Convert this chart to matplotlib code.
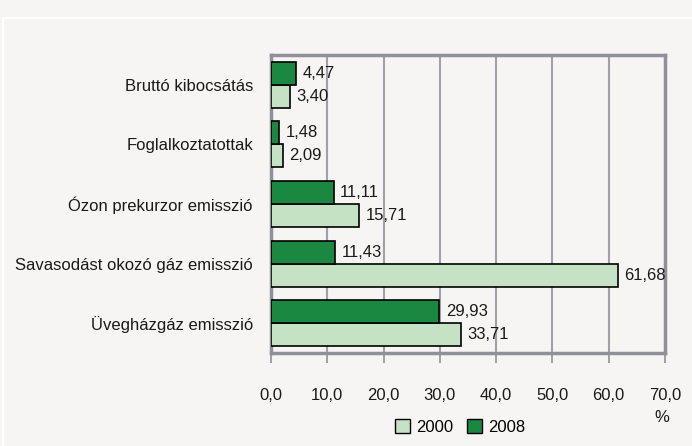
import matplotlib.pyplot as plt
import matplotlib.patches as mpatches
import numpy as np

categories = ["Bruttó kibocsátás", "Foglalkoztatottak", "Ózon prekurzor emisszió",
              "Savasodást okozó gáz emisszió", "Üvegházgáz emisszió"]
values_2000 = [3.40, 2.09, 15.71, 61.68, 33.71]
values_2008 = [4.47, 1.48, 11.11, 11.43, 29.93]
xticks = [0, 10, 20, 30, 40, 50, 60, 70]

bg = "#f6f5f3"
light = "#c5e3c4"
dark = "#1a8840"
grey = "#909098"
txt = "#1a1a1a"

plt.rcParams['font.family'] = ['Liberation Sans Narrow', 'Liberation Sans', 'DejaVu Sans']

fig = plt.figure(figsize=(6.92, 4.46), dpi=100, facecolor=bg)
# thin white panel border
fig.patches.append(mpatches.Rectangle((3 / 692, -0.1), 1.2, 1 - 18 / 446 + 0.1,
                                      transform=fig.transFigure, facecolor="none",
                                      edgecolor="white", linewidth=1.5))

ax = fig.add_axes([271 / 692, 1 - 353 / 446, 394 / 692, 298 / 446])
ax.set_facecolor(bg)

y = np.arange(len(categories))
h = 0.385
b1 = ax.barh(y + h / 2, values_2000, height=h, color=light, edgecolor="black", linewidth=1.2, zorder=3)
b2 = ax.barh(y - h / 2, values_2008, height=h, color=dark, edgecolor="black", linewidth=1.2, zorder=3)

for bars, vals in ((b1, values_2000), (b2, values_2008)):
    for rect, v in zip(bars, vals):
        ax.annotate(f"{v:.2f}".replace(".", ","),
                    (rect.get_width(), rect.get_y() + rect.get_height() / 2),
                    xytext=(4.5, 0), textcoords="offset points",
                    ha="left", va="center", fontsize=12, color=txt)

ax.set_xlim(0, 70)
ax.set_ylim(len(categories) - 0.5, -0.5)
ax.set_xticks(xticks)
ax.set_xticklabels([f"{t:.1f}".replace(".", ",") for t in xticks], fontsize=12, color=txt)
ax.set_yticks(y)
ax.set_yticklabels(categories, fontsize=12, color=txt)
ax.tick_params(axis="y", length=0, pad=13)
ax.tick_params(axis="x", length=7, color=grey, width=1.2, pad=18)
ax.grid(axis="x", color="#a0a0a8", linewidth=1.5, zorder=0)
for s in ax.spines.values():
    s.set_color(grey)
    s.set_linewidth(2.5)

fig.text(662 / 692, 1 - 417 / 446, "%", ha="center", va="center", fontsize=12, color=txt)

handles = [mpatches.Patch(facecolor=light, edgecolor="black", label="2000"),
           mpatches.Patch(facecolor=dark, edgecolor="black", label="2008")]
fig.legend(handles=handles, loc="center", bbox_to_anchor=(460 / 692, 1 - 427 / 446),
           ncol=2, frameon=False, fontsize=12, handlelength=0.9, handleheight=0.9,
           handletextpad=0.4, columnspacing=0.8)

fig.savefig("out.png", dpi=100, facecolor=bg)
